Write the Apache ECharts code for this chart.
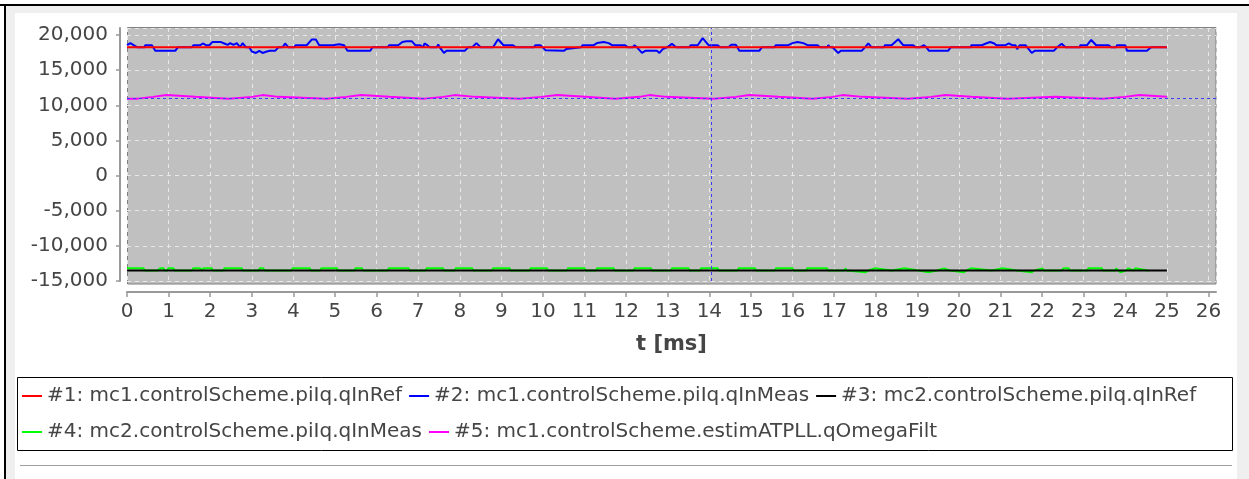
<!DOCTYPE html>
<html><head><meta charset="utf-8">
<script src="https://cdn.jsdelivr.net/npm/echarts@6/dist/echarts.min.js"></script>
<style>html,body{margin:0;padding:0;background:#fff}#c{width:1249px;height:479px}</style>
</head><body><div id="c"></div>
<script>
// ---- series names ----
const names = [
  '#1: mc1.controlScheme.piIq.qInRef',
  '#2: mc1.controlScheme.piIq.qInMeas',
  '#3: mc2.controlScheme.piIq.qInRef',
  '#4: mc2.controlScheme.piIq.qInMeas',
  '#5: mc1.controlScheme.estimATPLL.qOmegaFilt'
];
const colors = ['#ff0000', '#0000ff', '#000000', '#00ff00', '#ff00ff'];

// ---- #1 red ----
const redT = [0, 25];
const redV = [18250, 18250];

// ---- #2 blue ----
const blueT = [0.00,0.08,0.16,0.25,0.42,0.44,0.60,0.68,1.16,1.22,1.56,1.60,1.76,1.82,1.90,1.98,2.05,2.26,2.34,2.42,2.48,2.56,2.64,2.72,2.78,2.86,2.94,3.00,3.10,3.18,3.26,3.36,3.44,3.56,3.64,3.74,3.80,3.88,4.02,4.05,4.32,4.44,4.54,4.62,4.95,5.10,5.22,5.30,5.85,5.90,6.27,6.30,6.52,6.62,6.72,6.85,6.93,7.05,7.12,7.15,7.22,7.28,7.45,7.48,7.52,7.62,7.68,8.12,8.20,8.30,8.40,8.50,8.80,8.92,9.05,9.28,9.35,9.78,9.82,9.94,10.06,10.50,10.56,10.60,10.92,10.95,11.22,11.30,11.46,11.58,11.66,11.98,12.04,12.16,12.20,12.26,12.38,12.46,12.74,12.80,12.88,12.98,13.10,13.20,13.52,13.55,13.72,13.84,13.98,14.20,14.26,14.46,14.52,14.64,14.72,15.20,15.26,15.56,15.60,15.90,16.00,16.12,16.26,16.36,16.60,16.66,16.84,16.86,16.90,16.96,17.10,17.16,17.66,17.74,17.82,17.90,18.20,18.22,18.38,18.54,18.66,18.90,18.96,19.00,19.06,19.16,19.22,19.28,19.74,19.80,20.28,20.30,20.55,20.65,20.75,20.85,20.90,21.12,21.20,21.28,21.36,21.40,21.46,21.60,21.75,21.82,22.28,22.36,22.47,22.56,22.90,22.92,23.08,23.18,23.30,23.60,23.66,23.78,23.80,24.00,24.04,24.52,24.62,25.00];
const blueV = [18550,18850,18550,18250,18250,18550,18550,17750,17750,18250,18250,18550,18550,18800,18550,18550,19000,19000,18800,18600,18850,18600,18850,18250,18850,18250,18250,17650,17450,17750,17450,17650,17750,17750,18250,18250,18800,18250,18250,18550,18550,19350,19350,18550,18550,18700,18550,17750,17750,18250,18250,18550,18550,19000,19100,19100,18550,18550,18250,18800,18550,18250,18250,18650,18250,17450,17750,17750,18250,18250,18850,18250,18250,19400,18550,18550,18250,18250,18550,18550,17850,17750,18000,18250,18250,18550,18550,18850,19000,18850,18550,18550,18250,18250,18550,18250,17450,17750,17750,17450,18000,18250,18750,18250,18250,18550,18550,19550,18550,18550,18250,18250,18600,18600,17750,17750,18250,18250,18550,18550,18850,19000,18850,18550,18550,18250,18250,18550,18250,18250,17450,17750,17750,18250,18800,18250,18250,18550,18550,19400,18550,18550,18250,18000,18250,18550,18250,17750,17750,18250,18250,18550,18550,18800,19000,18800,18550,18550,18800,18550,18550,18000,18550,18550,17450,17750,17750,18250,18750,18250,18250,18550,18550,19300,18550,18550,18250,18250,18550,18550,17750,17750,18250,18250];

// ---- #3 black ----
const blackT = [0, 25];
const blackV = [-13500, -13500];

// ---- #4 green ----
const greenT = [0.00,0.40,0.42,0.66,0.70,0.74,0.77,0.79,0.88,0.90,0.97,0.99,1.12,1.14,1.57,1.59,1.76,1.78,1.82,1.84,2.04,2.06,2.32,2.34,2.76,2.78,3.00,3.03,3.06,3.17,3.19,3.28,3.30,3.75,3.78,3.81,3.96,3.98,4.40,4.42,4.65,4.67,5.05,5.07,5.35,5.38,5.41,5.47,5.49,5.65,5.67,6.11,6.14,6.17,6.27,6.29,6.77,6.79,6.97,7.00,7.03,7.18,7.20,7.60,7.62,7.88,7.90,8.30,8.32,8.57,8.60,8.63,8.78,8.80,9.20,9.22,9.47,9.50,9.53,9.68,9.70,10.10,10.12,10.37,10.40,10.43,10.58,10.60,11.00,11.02,11.28,11.30,11.70,11.72,11.97,12.00,12.03,12.18,12.20,12.60,12.62,12.87,12.90,12.93,13.08,13.10,13.50,13.52,13.78,13.80,14.20,14.22,14.47,14.50,14.53,14.68,14.70,15.10,15.12,15.37,15.40,15.43,15.58,15.60,16.00,16.02,16.33,16.35,16.83,16.85,17.25,17.27,17.30,17.32,17.76,17.79,17.82,17.97,17.99,18.39,18.41,18.69,18.71,19.03,19.05,19.27,19.47,19.50,19.64,19.66,19.78,19.80,20.12,20.15,20.18,20.29,20.31,20.79,20.81,21.05,21.07,21.39,21.41,21.75,21.78,21.81,22.01,22.03,22.05,22.07,22.46,22.49,22.52,22.64,22.66,23.09,23.11,23.44,23.46,23.76,23.78,23.83,23.85,23.88,24.01,24.04,24.07,24.20,24.22,24.24,24.54,24.56,24.58,25.00];
const greenV = [-13200,-13200,-13500,-13500,-13750,-13500,-13500,-13200,-13200,-13500,-13500,-13200,-13200,-13500,-13500,-13200,-13200,-13500,-13500,-13200,-13200,-13500,-13500,-13200,-13200,-13500,-13500,-13750,-13500,-13500,-13200,-13200,-13500,-13500,-13750,-13500,-13500,-13200,-13200,-13500,-13500,-13200,-13200,-13500,-13500,-13750,-13500,-13500,-13200,-13200,-13500,-13500,-13750,-13500,-13500,-13200,-13200,-13500,-13500,-13750,-13500,-13500,-13200,-13200,-13500,-13500,-13200,-13200,-13500,-13500,-13750,-13500,-13500,-13200,-13200,-13500,-13500,-13750,-13500,-13500,-13200,-13200,-13500,-13500,-13750,-13500,-13500,-13200,-13200,-13500,-13500,-13200,-13200,-13500,-13500,-13750,-13500,-13500,-13200,-13200,-13500,-13500,-13750,-13500,-13500,-13200,-13200,-13500,-13500,-13200,-13200,-13500,-13500,-13750,-13500,-13500,-13200,-13200,-13500,-13500,-13750,-13500,-13500,-13200,-13200,-13500,-13500,-13200,-13200,-13500,-13500,-13200,-13500,-13500,-13750,-13500,-13500,-13200,-13200,-13500,-13500,-13200,-13200,-13500,-13750,-13750,-13500,-13500,-13200,-13200,-13500,-13500,-13750,-13500,-13500,-13200,-13200,-13500,-13500,-13200,-13200,-13500,-13500,-13750,-13500,-13500,-13200,-13500,-13500,-13750,-13500,-13500,-13200,-13200,-13500,-13500,-13200,-13200,-13500,-13500,-13200,-13500,-13500,-13750,-13500,-13500,-13200,-13500,-13500,-13200,-13500,-13500];

// ---- #5 magenta ----
const magT = [0.00,0.26,0.30,0.62,0.66,0.95,0.99,1.64,1.68,2.44,2.48,3.00,3.04,3.26,3.30,3.64,3.68,4.80,4.84,5.27,5.31,5.63,5.67,6.31,6.35,7.15,7.19,7.60,7.64,7.88,7.92,8.36,8.40,9.44,9.48,9.96,10.00,10.34,10.38,11.02,11.06,11.74,11.78,12.32,12.36,12.56,12.60,12.96,13.00,14.11,14.15,14.64,14.68,14.96,15.00,15.66,15.70,16.48,16.52,16.96,17.00,17.20,17.24,17.68,17.72,18.77,18.81,19.33,19.37,19.68,19.72,20.30,20.34,21.17,21.21,22.32,22.36,23.46,23.50,23.98,24.02,24.34,24.38,25.00];
const magV = [10950,10950,11200,11200,11450,11450,11200,11200,10950,10950,11200,11200,11450,11450,11200,11200,10950,10950,11200,11200,11450,11450,11200,11200,10950,10950,11200,11200,11450,11450,11200,11200,10950,10950,11200,11200,11450,11450,11200,11200,10950,10950,11200,11200,11450,11450,11200,11200,10950,10950,11200,11200,11450,11450,11200,11200,10950,10950,11200,11200,11450,11450,11200,11200,10950,10950,11200,11200,11450,11450,11200,11200,10950,10950,11200,11200,10950,10950,11200,11200,11450,11450,11200,11200];

// ---- crosshair & axes ----
const crossT = 14.05;
const crossV = 10950;
const xTicks = {min: 0, max: 26.18, step: 1};
const yTicks = {min: -15000, max: 21000, step: 5000};

const zip = (t, v) => t.map((x, i) => [x, v[i]]);
const datasets = [zip(redT, redV), zip(blueT, blueV), zip(blackT, blackV), zip(greenT, greenV), zip(magT, magV)];

const FONT = 'DejaVu Sans';
const TXT = '#454545';
const chart = echarts.init(document.getElementById('c'), null, {renderer: 'canvas'});

// draw order: #5 first (bottom) ... #1 last (top)
const order = [4, 3, 2, 1, 0];
const series = order.map(i => ({
  name: names[i],
  type: 'line',
  data: datasets[i],
  showSymbol: false,
  symbol: 'none',
  color: colors[i],
  lineStyle: {color: colors[i], width: 2},
  emphasis: {disabled: true},
  animation: false,
  markLine: i === 4 ? {
    silent: true, symbol: ['none', 'none'], label: {show: false},
    lineStyle: {color: '#3c3cff', type: [3, 3], width: 1},
    emphasis: {disabled: true},
    data: [{xAxis: crossT}, {yAxis: crossV}]
  } : undefined
}));

const legendCommon = {
  itemWidth: 20, itemHeight: 2, itemGap: 7, icon: 'rect', padding: 0,
  selectedMode: false,
  textStyle: {fontFamily: FONT, fontSize: 20, color: TXT}
};

chart.setOption({
  animation: false,
  backgroundColor: '#ffffff',
  textStyle: {fontFamily: FONT},
  graphic: [
    {type: 'rect', z: -100, shape: {x: 0, y: 4, width: 1249, height: 2}, style: {fill: '#000000'}},
    {type: 'rect', z: -100, shape: {x: 4, y: 4, width: 2, height: 475}, style: {fill: '#000000'}},
    {type: 'rect', z: -100, shape: {x: 6, y: 6, width: 1243, height: 473}, style: {fill: '#efefef'}},
    {type: 'rect', z: -99, shape: {x: 15, y: 13, width: 1222, height: 466}, style: {fill: '#ffffff'}},
    {type: 'rect', z: -98, shape: {x: 127.5, y: 27.5, width: 1088.5, height: 256.5}, style: {fill: '#c0c0c0', stroke: '#7f7f7f', lineWidth: 1}},
    {type: 'rect', z: 10, shape: {x: 17.5, y: 377.5, width: 1215, height: 73}, style: {fill: 'none', stroke: '#000000', lineWidth: 1}},
    {type: 'rect', z: -97, shape: {x: 20, y: 465, width: 1212, height: 1}, style: {fill: '#a0a0a0'}}
  ],
  grid: {left: 127, right: 33, top: 28, bottom: 198, containLabel: false, show: false},
  xAxis: {
    type: 'value', min: xTicks.min, max: xTicks.max, interval: xTicks.step, offset: 11,
    name: 't [ms]', nameLocation: 'middle', nameGap: 42,
    nameTextStyle: {fontFamily: FONT, fontWeight: 'bold', fontSize: 21, color: TXT},
    axisLine: {show: true, onZero: false, lineStyle: {color: '#999999', width: 2}},
    axisTick: {show: true, length: 5, lineStyle: {color: '#999999', width: 1.5}},
    axisLabel: {fontFamily: FONT, fontSize: 20, color: TXT, margin: 10, showMaxLabel: false},
    splitLine: {show: true, lineStyle: {color: '#e8e8e8', type: [4, 4], width: 1}}
  },
  yAxis: {
    type: 'value', min: yTicks.min, max: yTicks.max, interval: yTicks.step, offset: 7,
    axisLine: {show: true, onZero: false, lineStyle: {color: '#999999', width: 2}},
    axisTick: {show: true, length: 4, lineStyle: {color: '#999999', width: 1.5}},
    axisLabel: {fontFamily: FONT, fontSize: 20, color: TXT, margin: 12, showMaxLabel: false,
      formatter: v => v.toLocaleString('en-US')},
    splitLine: {show: true, lineStyle: {color: '#e8e8e8', type: [4, 4], width: 1}}
  },
  legend: [
    Object.assign({data: names.slice(0, 3), left: 22, top: 386}, legendCommon),
    Object.assign({data: names.slice(3, 5), left: 22, top: 422}, legendCommon)
  ],
  series: series
});
</script></body></html>
